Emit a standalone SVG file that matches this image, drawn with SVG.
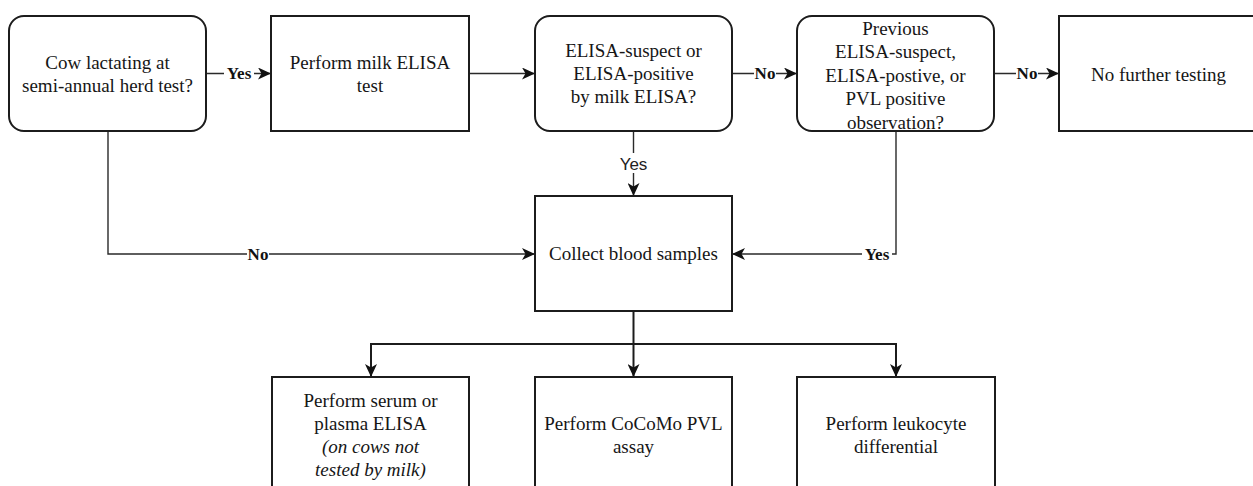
<svg xmlns="http://www.w3.org/2000/svg" width="1253" height="486" viewBox="0 0 1253 486">
<style>
.box{fill:#fff;stroke:#1c1c1c;stroke-width:2}
.t{font-family:"Liberation Serif","Times New Roman",serif;font-size:19px;fill:#161616;text-anchor:middle}
.it{font-style:italic}
.c{fill:none;stroke:#2a2a2a;stroke-width:1.4}
.cb{fill:none;stroke:#1c1c1c;stroke-width:2}
.lb{font-family:"Liberation Serif","Times New Roman",serif;font-size:17px;font-weight:bold;fill:#111;text-anchor:middle}
.ls{font-family:"Liberation Sans",Arial,sans-serif;font-size:17px;fill:#222;text-anchor:middle}
.bg{fill:#fff;stroke:none}
</style>
<defs>
<marker id="ah" markerUnits="userSpaceOnUse" markerWidth="14" markerHeight="12" refX="13" refY="6" orient="auto">
<path d="M0,0 L13,6 L0,12 L3.5,6 z" fill="#111"/>
</marker>
</defs>
<rect width="1253" height="486" fill="#fff"/>

<g id="connectors">
<line class="c" x1="206" y1="73.5" x2="271" y2="73.5" marker-end="url(#ah)"/>
<line class="c" x1="469" y1="73.5" x2="535" y2="73.5" marker-end="url(#ah)"/>
<line class="c" x1="732" y1="73.5" x2="797" y2="73.5" marker-end="url(#ah)"/>
<line class="c" x1="994" y1="73.5" x2="1059" y2="73.5" marker-end="url(#ah)"/>
<line class="c" x1="633.5" y1="131" x2="633.5" y2="196" marker-end="url(#ah)"/>
<polyline class="c" points="108,131 108,254 535,254" marker-end="url(#ah)"/>
<polyline class="c" points="896,131 896,254 732,254" marker-end="url(#ah)"/>
<line class="cb" x1="633.5" y1="311" x2="633.5" y2="377" marker-end="url(#ah)"/>
<polyline class="cb" points="633.5,344 371,344 371,377" marker-end="url(#ah)"/>
<polyline class="cb" points="633.5,344 896,344 896,377" marker-end="url(#ah)"/>
<rect class="bg" x="224" y="64" width="30" height="18"/>
<text class="lb" x="239" y="79">Yes</text>
<rect class="bg" x="754" y="64" width="22" height="18"/>
<text class="lb" x="765" y="79">No</text>
<rect class="bg" x="1016" y="64" width="22" height="18"/>
<text class="lb" x="1027" y="79">No</text>
<rect class="bg" x="618" y="153" width="31" height="20"/>
<text class="ls" x="633.5" y="170">Yes</text>
<rect class="bg" x="247" y="245" width="22" height="18"/>
<text class="lb" x="258" y="260">No</text>
<rect class="bg" x="862" y="245" width="30" height="18"/>
<text class="lb" x="877" y="260">Yes</text>
</g>

<g id="n1">
<rect class="box" x="9" y="16" width="197" height="115" rx="15"/>
<text class="t" x="107.5" y="69">Cow lactating at</text>
<text class="t" x="107.5" y="92">semi-annual herd test?</text>
</g>
<g id="n2">
<rect class="box" x="271" y="16" width="198" height="115"/>
<text class="t" x="370" y="69">Perform milk ELISA</text>
<text class="t" x="370" y="92">test</text>
</g>
<g id="n3">
<rect class="box" x="535" y="16" width="197" height="115" rx="15"/>
<text class="t" x="633.5" y="57">ELISA-suspect or</text>
<text class="t" x="633.5" y="80">ELISA-positive</text>
<text class="t" x="633.5" y="103">by milk ELISA?</text>
</g>
<g id="n4">
<rect class="box" x="797" y="16" width="197" height="115" rx="15"/>
<text class="t" x="895.5" y="34.5">Previous</text>
<text class="t" x="895.5" y="58">ELISA-suspect,</text>
<text class="t" x="895.5" y="81.5">ELISA-postive, or</text>
<text class="t" x="895.5" y="105">PVL positive</text>
<text class="t" x="895.5" y="128.5">observation?</text>
</g>
<g id="n5">
<rect class="box" x="1059" y="16" width="199" height="115"/>
<text class="t" x="1158.5" y="81">No further testing</text>
</g>
<g id="n6">
<rect class="box" x="535" y="196" width="197" height="115"/>
<text class="t" x="633.5" y="260">Collect blood samples</text>
</g>
<g id="n7">
<rect class="box" x="272" y="377" width="197" height="115"/>
<text class="t" x="370.5" y="407">Perform serum or</text>
<text class="t" x="370.5" y="430">plasma ELISA</text>
<text class="t it" x="370.5" y="453">(on cows not</text>
<text class="t it" x="370.5" y="476">tested by milk)</text>
</g>
<g id="n8">
<rect class="box" x="535" y="377" width="197" height="115"/>
<text class="t" x="633.5" y="430">Perform CoCoMo PVL</text>
<text class="t" x="633.5" y="453">assay</text>
</g>
<g id="n9">
<rect class="box" x="797" y="377" width="198" height="115"/>
<text class="t" x="896" y="430">Perform leukocyte</text>
<text class="t" x="896" y="453">differential</text>
</g>
</svg>
